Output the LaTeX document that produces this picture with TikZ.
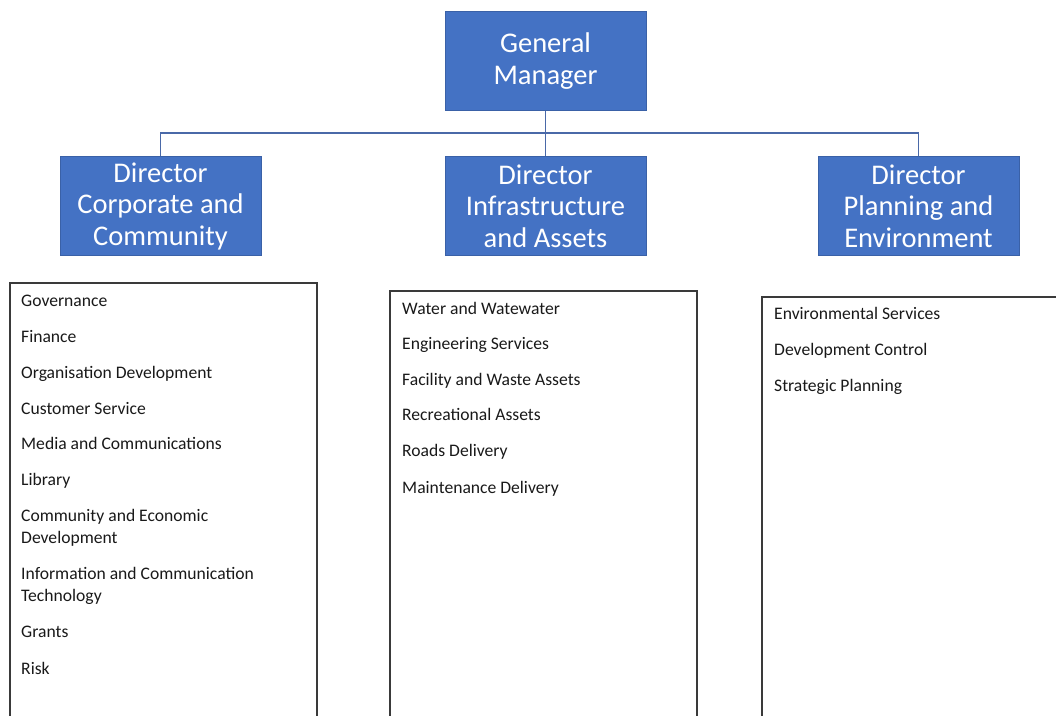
\documentclass[tikz,border=0pt]{standalone}
\usepackage{fontspec}
\setmainfont{Carlito}
\definecolor{boxblue}{HTML}{4472C4}
\definecolor{linkblue}{HTML}{4A69A8}
\definecolor{framegray}{HTML}{3A3A3A}
\begin{document}
\begin{tikzpicture}[x=1pt,y=-1pt,
  rolebox/.style={fill=boxblue,draw=boxblue!85!black,line width=0.6pt,
    minimum width=201pt,minimum height=99pt,inner sep=0pt,
    text=white,align=center,font=\fontsize{28.5}{31.5}\selectfont},
  link/.style={draw=linkblue,line width=1.4pt},
  listframe/.style={draw=framegray,line width=1.2pt},
  item/.style={anchor=base west,inner sep=0pt,align=left,
    font=\fontsize{17.6}{22}\selectfont,text=black!90}]
\useasboundingbox (0,0) rectangle (1056,715);

% management boxes
\node[rolebox] (gm) at (545.5,61) {General\\Manager};
\node[rolebox] (dcc) at (160.5,206) {Director\\Corporate and\\Community};
\node[rolebox] (dia) at (545.5,206) {Director\\Infrastructure\\and Assets};
\node[rolebox] (dpe) at (918.5,206) {Director\\Planning and\\Environment};

% reporting lines
\coordinate (bus) at (545.5,133);
\draw[link] (gm.south) -- (bus);
\draw[link] (dcc.north) |- (bus) -| (dpe.north);
\draw[link] (bus) -- (dia.north);

% service lists (open at the bottom)
\draw[listframe] (10,720) -- (10,283) -- (317,283) -- (317,720);
\draw[listframe] (390,720) -- (390,291) -- (697,291) -- (697,720);
\draw[listframe] (762,720) -- (762,297) -- (1060,297);

% corporate and community (two-line items are placed by their last line)
\node[item] (c1) at (21,306) {Governance};
\node[item] (c2) at (21,342) {Finance};
\node[item] (c3) at (21,378) {Organisation Development};
\node[item] (c4) at (21,414) {Customer Service};
\node[item] (c5) at (21,449) {Media and Communications};
\node[item] (c6) at (21,485) {Library};
\node[item] (c7) at (21,543) {Community and Economic\\Development};
\node[item] (c8) at (21,601) {Information and Communication\\Technology};
\node[item] (c9) at (21,637) {Grants};
\node[item] (c10) at (21,674) {Risk};

% infrastructure and assets
\node[item] (i1) at (402,314) {Water and Watewater};
\node[item] (i2) at (402,349) {Engineering Services};
\node[item] (i3) at (402,385) {Facility and Waste Assets};
\node[item] (i4) at (402,420) {Recreational Assets};
\node[item] (i5) at (402,456) {Roads Delivery};
\node[item] (i6) at (402,493) {Maintenance Delivery};

% planning and environment
\node[item] (p1) at (774,319) {Environmental Services};
\node[item] (p2) at (774,355) {Development Control};
\node[item] (p3) at (774,391) {Strategic Planning};
\end{tikzpicture}
\end{document}
